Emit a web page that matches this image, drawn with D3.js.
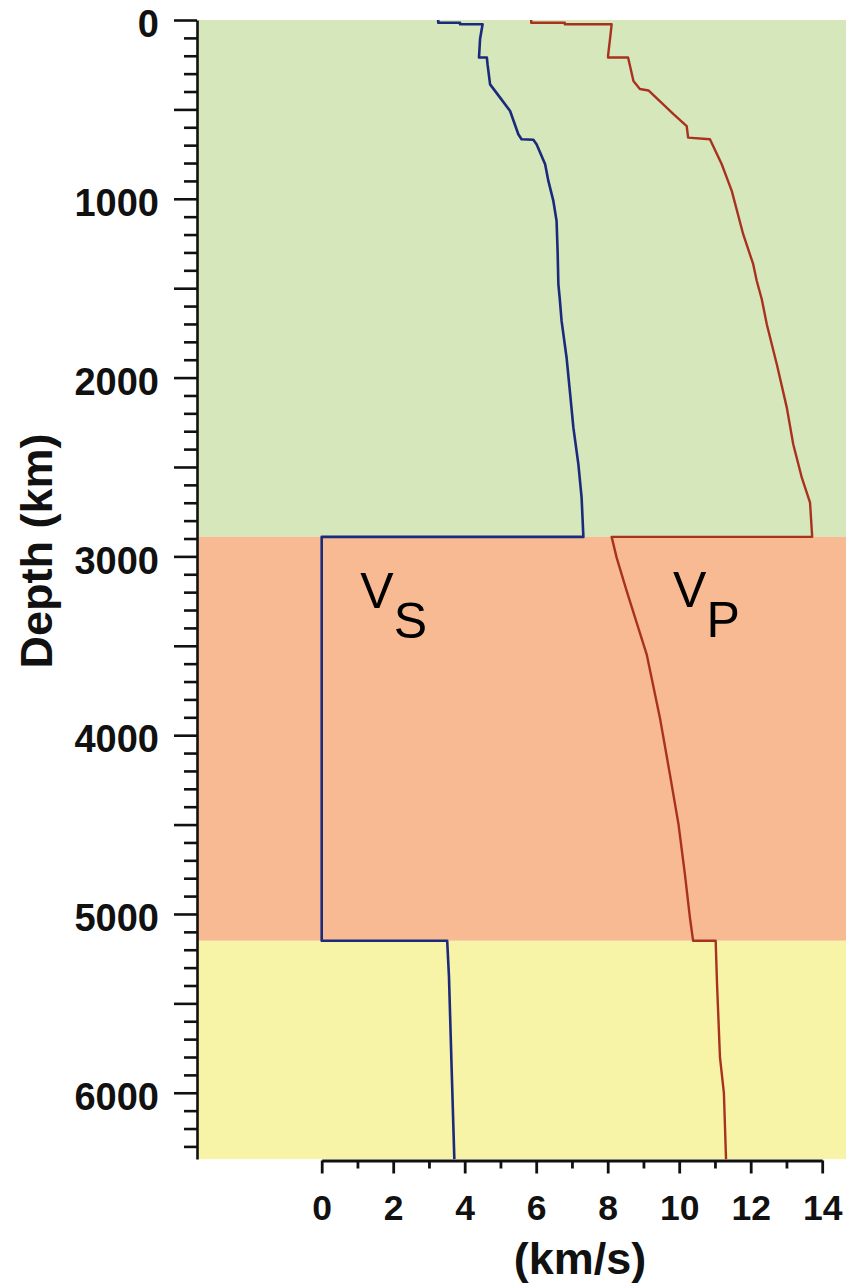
<!DOCTYPE html>
<html>
<head>
<meta charset="utf-8">
<script src="https://cdn.jsdelivr.net/npm/d3@7"></script>
<style>
  html, body { margin: 0; padding: 0; background: #ffffff; }
  svg { display: block; }
</style>
</head>
<body>
<svg id="chart" width="846" height="1287"></svg>
<script>
// ---- data ----
const layerNames   = ["Mantle", "Outer core", "Inner core"];
const layerTops    = [0, 2891, 5150];
const layerBottoms = [2891, 5150, 6371];
const layerColors  = ["#d5e7bb", "#f8ba92", "#f7f3a7"];

const vsDepth = [0, 15, 15, 24, 24, 106, 210, 210, 250, 360, 434, 509, 639, 667, 670, 695, 807, 900, 1012, 1124, 1300, 1477, 1561, 1683, 1889, 2092, 2280, 2485, 2672, 2891, 2891, 5150, 5150, 5350, 5900, 6371];
const vsValue = [3.26, 3.26, 3.87, 3.87, 4.50, 4.43, 4.40, 4.62, 4.64, 4.71, 4.99, 5.27, 5.50, 5.59, 5.92, 6.01, 6.25, 6.34, 6.48, 6.57, 6.60, 6.62, 6.66, 6.71, 6.85, 6.95, 7.04, 7.18, 7.27, 7.32, 0, 0, 3.51, 3.56, 3.64, 3.71];

const vpDepth = [0, 15, 15, 24, 24, 80, 200, 210, 210, 341, 386, 394, 527, 593, 658, 667, 807, 956, 1198, 1366, 1460, 1562, 1702, 1925, 2168, 2373, 2560, 2700, 2891, 2891, 3007, 3193, 3548, 3902, 4219, 4498, 4778, 5021, 5150, 5150, 5400, 5800, 6000, 6371];
const vpValue = [5.86, 5.86, 6.80, 6.80, 8.11, 8.08, 8.01, 8.01, 8.57, 8.72, 8.90, 9.14, 9.84, 10.21, 10.25, 10.86, 11.19, 11.47, 11.79, 12.07, 12.17, 12.31, 12.45, 12.73, 13.01, 13.19, 13.43, 13.66, 13.72, 8.11, 8.25, 8.53, 9.09, 9.46, 9.74, 9.98, 10.16, 10.30, 10.39, 11.02, 11.06, 11.14, 11.25, 11.31];

const depthMajorTicks = [0, 1000, 2000, 3000, 4000, 5000, 6000];
const speedTicks      = [0, 2, 4, 6, 8, 10, 12, 14];

const seriesLabels = [
  { main: "V", sub: "S", v: 1.08, depth: 3289 },
  { main: "V", sub: "P", v: 9.83, depth: 3283 }
];

// ---- scales ----
const svg = d3.select("#chart");
const y = d3.scaleLinear().domain([0, 6371]).range([20, 1159.1]);
const x = d3.scaleLinear().domain([0, 14]).range([321.7, 822.2]);
const axisX = 197;
const axisY = 1160.5;
const fontFam = "'Liberation Sans', Arial, Helvetica, sans-serif";

// ---- background layers ----
svg.append("g").selectAll("rect")
  .data(layerNames.map((n, i) => ({ n, top: layerTops[i], bottom: layerBottoms[i], c: layerColors[i] })))
  .join("rect")
  .attr("x", axisX)
  .attr("y", d => y(d.top))
  .attr("width", 846 - axisX)
  .attr("height", d => y(d.bottom) - y(d.top))
  .attr("fill", d => d.c);

// ---- curves ----
const line = d3.line().x(d => x(d[1])).y(d => y(d[0]));
svg.append("path")
  .datum(vsDepth.map((d, i) => [d, vsValue[i]]))
  .attr("d", line)
  .attr("fill", "none")
  .attr("stroke", "#1b2a7c")
  .attr("stroke-width", 2.6)
  .attr("stroke-linejoin", "round");
svg.append("path")
  .datum(vpDepth.map((d, i) => [d, vpValue[i]]))
  .attr("d", line)
  .attr("fill", "none")
  .attr("stroke", "#a8321f")
  .attr("stroke-width", 2.4)
  .attr("stroke-linejoin", "round");

// ---- series labels ----
seriesLabels.forEach(l => {
  const t = svg.append("text")
    .attr("x", x(l.v))
    .attr("y", y(l.depth))
    .attr("font-family", fontFam)
    .attr("font-size", 50)
    .attr("fill", "#000");
  t.append("tspan").text(l.main);
  t.append("tspan").attr("dy", 30).text(l.sub);
});

// ---- y axis ----
const yAxis = d3.axisLeft(y)
  .tickValues(d3.range(0, 6371, 100))
  .tickSize(13)
  .tickSizeOuter(0)
  .tickFormat(d => depthMajorTicks.includes(d) ? d3.format("d")(d) : "");
const gy = svg.append("g").attr("transform", `translate(${axisX},0)`).call(yAxis);
gy.select(".domain").attr("stroke", "#111").attr("stroke-width", 2.6);
gy.selectAll(".tick line")
  .attr("stroke", "#111").attr("stroke-width", 2.6)
  .attr("x2", d => d % 500 === 0 ? -23 : -13);
gy.selectAll(".tick text")
  .attr("x", -38)
  .attr("dy", "0.36em")
  .attr("y", 3)
  .attr("font-family", fontFam)
  .attr("font-weight", "bold")
  .attr("font-size", 38)
  .attr("fill", "#111");

// ---- x axis ----
const xAxis = d3.axisBottom(x)
  .tickValues(d3.range(0, 15, 1))
  .tickSize(8)
  .tickSizeOuter(0)
  .tickFormat(d => speedTicks.includes(d) ? d : "");
const gx = svg.append("g").attr("transform", `translate(0,${axisY})`).call(xAxis);
gx.select(".domain").attr("stroke", "#111").attr("stroke-width", 2.8);
gx.selectAll(".tick line")
  .attr("stroke", "#111").attr("stroke-width", 2.8)
  .attr("y2", d => d % 2 === 0 ? 13 : 8);
gx.selectAll(".tick text")
  .attr("y", 59)
  .attr("dy", 0)
  .attr("font-family", fontFam)
  .attr("font-weight", "bold")
  .attr("font-size", 35.5)
  .attr("fill", "#111");

// ---- axis titles ----
svg.append("text")
  .attr("transform", `translate(52,551) rotate(-90)`)
  .attr("text-anchor", "middle")
  .attr("font-family", fontFam)
  .attr("font-weight", "bold")
  .attr("font-size", 45)
  .attr("fill", "#111")
  .text("Depth (km)");
svg.append("text")
  .attr("x", 580)
  .attr("y", 1274)
  .attr("text-anchor", "middle")
  .attr("font-family", fontFam)
  .attr("font-weight", "bold")
  .attr("font-size", 45)
  .attr("fill", "#111")
  .text("(km/s)");
</script>
</body>
</html>
